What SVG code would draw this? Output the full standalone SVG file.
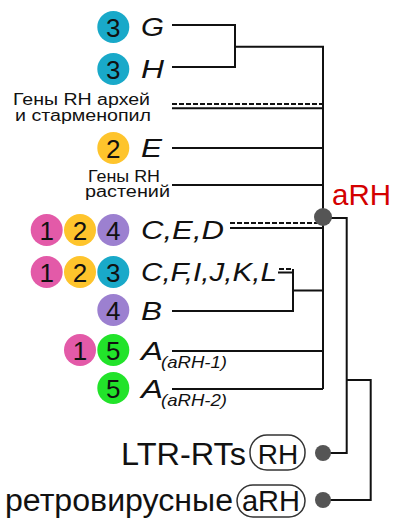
<svg xmlns="http://www.w3.org/2000/svg" width="394" height="518" viewBox="0 0 394 518">
<style>
.ln{stroke:#111;stroke-width:2;fill:none}
.ds{stroke:#111;stroke-width:2;fill:none;stroke-dasharray:5 2}
.num{font-family:"Liberation Sans",Arial,sans-serif;font-size:26px;text-anchor:middle;fill:#111}
.lab{font-family:"Liberation Sans",Arial,sans-serif;font-size:26px;font-style:italic;fill:#111}
.sub{font-family:"Liberation Sans",Arial,sans-serif;font-size:17px;font-style:italic;fill:#111}
.sm{font-family:"Liberation Sans",Arial,sans-serif;font-size:16px;fill:#111}
.big{font-family:"Liberation Sans",Arial,sans-serif;font-size:31px;fill:#111}
.c1{fill:#e35aa8}.c2{fill:#fec42c}.c3{fill:#19a9c9}.c4{fill:#9c80d0}.c5{fill:#22e32a}
.dot{fill:#555}
.box{fill:#fff;stroke:#333;stroke-width:1.5}
</style>
<g id="connectors">
<path class="ln" d="M172 25H235V67H172M235 46.7H323V389"/>
<path class="ds" d="M172 104H323"/>
<path class="ln" d="M172 108.3H323"/>
<path class="ln" d="M172 148H323"/>
<path class="ln" d="M172 185H323"/>
<path class="ds" d="M230 223H323"/>
<path class="ln" d="M230 228H323"/>
<path class="ds" d="M279 269H293"/>
<path class="ln" d="M278 272.5H293M293 269V311H172M293 290.5H323"/>
<path class="ln" d="M172 351H323M172 389H323"/>
<path class="ln" d="M323 218H346.7V453H323M346.7 380H370.7V500H323"/>
</g>
<g id="node-G"><circle class="c3" cx="113.3" cy="27" r="16"/><text class="num" x="113.3" y="36.5">3</text><text class="lab" x="141" y="36" textLength="23" lengthAdjust="spacingAndGlyphs">G</text></g>
<g id="node-H"><circle class="c3" cx="113.3" cy="69" r="16"/><text class="num" x="113.3" y="78.5">3</text><text class="lab" x="141" y="78" textLength="23" lengthAdjust="spacingAndGlyphs">H</text></g>
<g id="node-archaea"><text class="sm" x="13" y="105" textLength="137" lengthAdjust="spacingAndGlyphs">Гены RH архей</text><text class="sm" x="15" y="120.7" textLength="136" lengthAdjust="spacingAndGlyphs">и старменопил</text></g>
<g id="node-plants"><text class="sm" x="88" y="181.7" textLength="72" lengthAdjust="spacingAndGlyphs">Гены RH</text><text class="sm" x="85" y="197.4" textLength="85" lengthAdjust="spacingAndGlyphs">растений</text></g>
<g id="node-E"><circle class="c2" cx="113.3" cy="148" r="16"/><text class="num" x="113.3" y="157.5">2</text><text class="lab" x="141" y="157" textLength="21" lengthAdjust="spacingAndGlyphs">E</text></g>
<g id="node-CED"><circle class="c1" cx="46.7" cy="230" r="16"/><text class="num" x="46.7" y="239.5">1</text><circle class="c2" cx="80" cy="230" r="16"/><text class="num" x="80" y="239.5">2</text><circle class="c4" cx="113.3" cy="230" r="16"/><text class="num" x="113.3" y="239.5">4</text><text class="lab" x="141" y="239" textLength="83" lengthAdjust="spacingAndGlyphs">C,E,D</text></g>
<g id="node-CFIJKL"><circle class="c1" cx="46.7" cy="272" r="16"/><text class="num" x="46.7" y="281.5">1</text><circle class="c2" cx="80" cy="272" r="16"/><text class="num" x="80" y="281.5">2</text><circle class="c3" cx="113.3" cy="272" r="16"/><text class="num" x="113.3" y="281.5">3</text><text class="lab" x="141" y="281" textLength="136" lengthAdjust="spacingAndGlyphs">C,F,I,J,K,L</text></g>
<g id="node-B"><circle class="c4" cx="113.3" cy="310" r="16"/><text class="num" x="113.3" y="319.5">4</text><text class="lab" x="141" y="320" textLength="21" lengthAdjust="spacingAndGlyphs">B</text></g>
<g id="node-A1"><circle class="c1" cx="80" cy="350" r="16"/><text class="num" x="80" y="359.5">1</text><circle class="c5" cx="113.3" cy="350" r="16"/><text class="num" x="113.3" y="359.5">5</text><text class="lab" x="141" y="360" textLength="22" lengthAdjust="spacingAndGlyphs">A</text><text class="sub" x="161" y="368" textLength="66" lengthAdjust="spacingAndGlyphs">(aRH-1)</text></g>
<g id="node-A2"><circle class="c5" cx="113.3" cy="388" r="16"/><text class="num" x="113.3" y="397.5">5</text><text class="lab" x="141" y="398" textLength="22" lengthAdjust="spacingAndGlyphs">A</text><text class="sub" x="161" y="406" textLength="66" lengthAdjust="spacingAndGlyphs">(aRH-2)</text></g>
<g id="node-aRH"><circle class="dot" cx="323" cy="217" r="9"/><text x="332" y="205" textLength="59" lengthAdjust="spacingAndGlyphs" style="font-family:'Liberation Sans',Arial,sans-serif;font-size:29px;fill:#d40000">aRH</text></g>
<g id="node-LTR"><circle class="dot" cx="323" cy="453" r="8"/><text class="big" x="121" y="465" textLength="125" lengthAdjust="spacingAndGlyphs">LTR-RTs</text><rect class="box" x="250" y="435" width="55" height="35" rx="17"/><text class="big" text-anchor="middle" x="278" y="464" style="font-size:28px">RH</text></g>
<g id="node-retro"><circle class="dot" cx="323" cy="500" r="8"/><text class="big" x="5" y="511" textLength="228" lengthAdjust="spacingAndGlyphs">ретровирусные</text><rect class="box" x="237" y="485" width="68" height="32" rx="16"/><text class="big" text-anchor="middle" x="271" y="511" style="font-size:29px">aRH</text></g>
</svg>
